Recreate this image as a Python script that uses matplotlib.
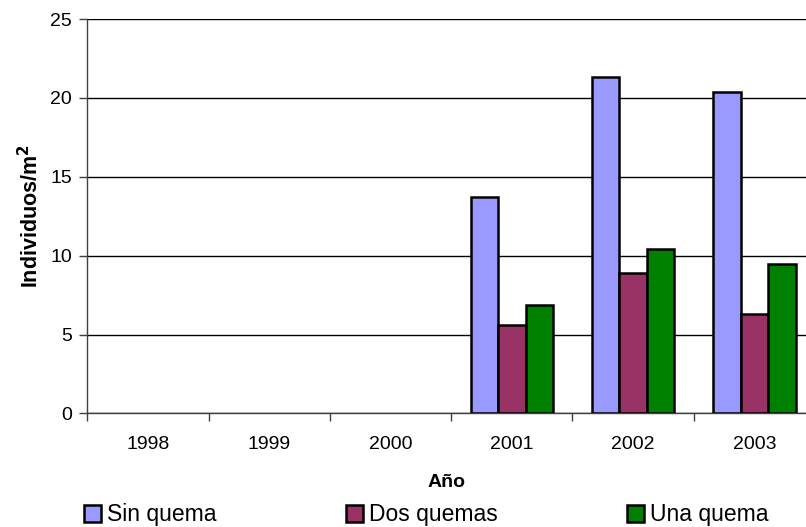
import numpy as np
import matplotlib
matplotlib.use("Agg")
import matplotlib.pyplot as plt
from matplotlib.ticker import FixedLocator, NullFormatter

plt.rcParams['font.family'] = ['Liberation Sans', 'DejaVu Sans']

years = ['1998', '1999', '2000', '2001', '2002', '2003']
sin_quema = [0, 0, 0, 13.7, 21.3, 20.4]
dos_quemas = [0, 0, 0, 5.6, 8.9, 6.3]
una_quema = [0, 0, 0, 6.9, 10.4, 9.5]

series = [
    ('Sin quema', sin_quema, '#9999FF'),
    ('Dos quemas', dos_quemas, '#993366'),
    ('Una quema', una_quema, '#008000'),
]

fig = plt.figure(figsize=(8.06, 5.27), dpi=100)
ax = fig.add_axes([0.1083, 0.2154, 0.8917, 0.7485])

x = np.arange(len(years))
w = 0.227
handles = []
for i, (name, vals, col) in enumerate(series):
    vals = np.array(vals)
    mask = vals > 0
    b = ax.bar(x[mask] + (i - 1) * w, vals[mask], width=w, color=col,
               edgecolor='black', linewidth=1.8, zorder=3, label=name)
    handles.append(b)

ax.set_ylim(0, 25)
ax.set_xlim(-0.5, 5.425)
ax.set_yticks([0, 5, 10, 15, 20, 25])
ax.yaxis.grid(True, color='black', linewidth=1.0, zorder=0)

# ticks sit on the category boundaries, labels at the centres
ax.xaxis.set_major_locator(FixedLocator(np.arange(-0.5, 6, 1.0)))
ax.xaxis.set_major_formatter(NullFormatter())
ax.xaxis.set_minor_locator(FixedLocator(x))
ax.set_xticklabels(years, minor=True)
ax.tick_params(axis='x', which='minor', length=0, pad=16.5, labelsize=14)
ax.tick_params(axis='x', which='major', direction='out', length=6, width=1, color='#404040')
ax.tick_params(axis='y', direction='out', length=6, width=1, color='#404040', labelsize=14, pad=5)

for s in ['top', 'right']:
    ax.spines[s].set_visible(False)
for s in ['left', 'bottom']:
    ax.spines[s].set_color('#404040')
    ax.spines[s].set_linewidth(1.0)

ax.set_xlabel('Año', fontsize=14, fontweight='bold', labelpad=14.5)
ax.set_ylabel('Individuos/m$^\\mathbf{2}$', fontsize=15.5, fontweight='bold', labelpad=5)

fig.legend(handles=handles, loc='center left', bbox_to_anchor=(0.1045, 0.0228),
           ncol=3, frameon=False, fontsize=16.5, handlelength=0.72, handleheight=0.72,
           handletextpad=0.26, columnspacing=5.67, borderaxespad=0, borderpad=0)

fig.savefig('out.png', dpi=100)
